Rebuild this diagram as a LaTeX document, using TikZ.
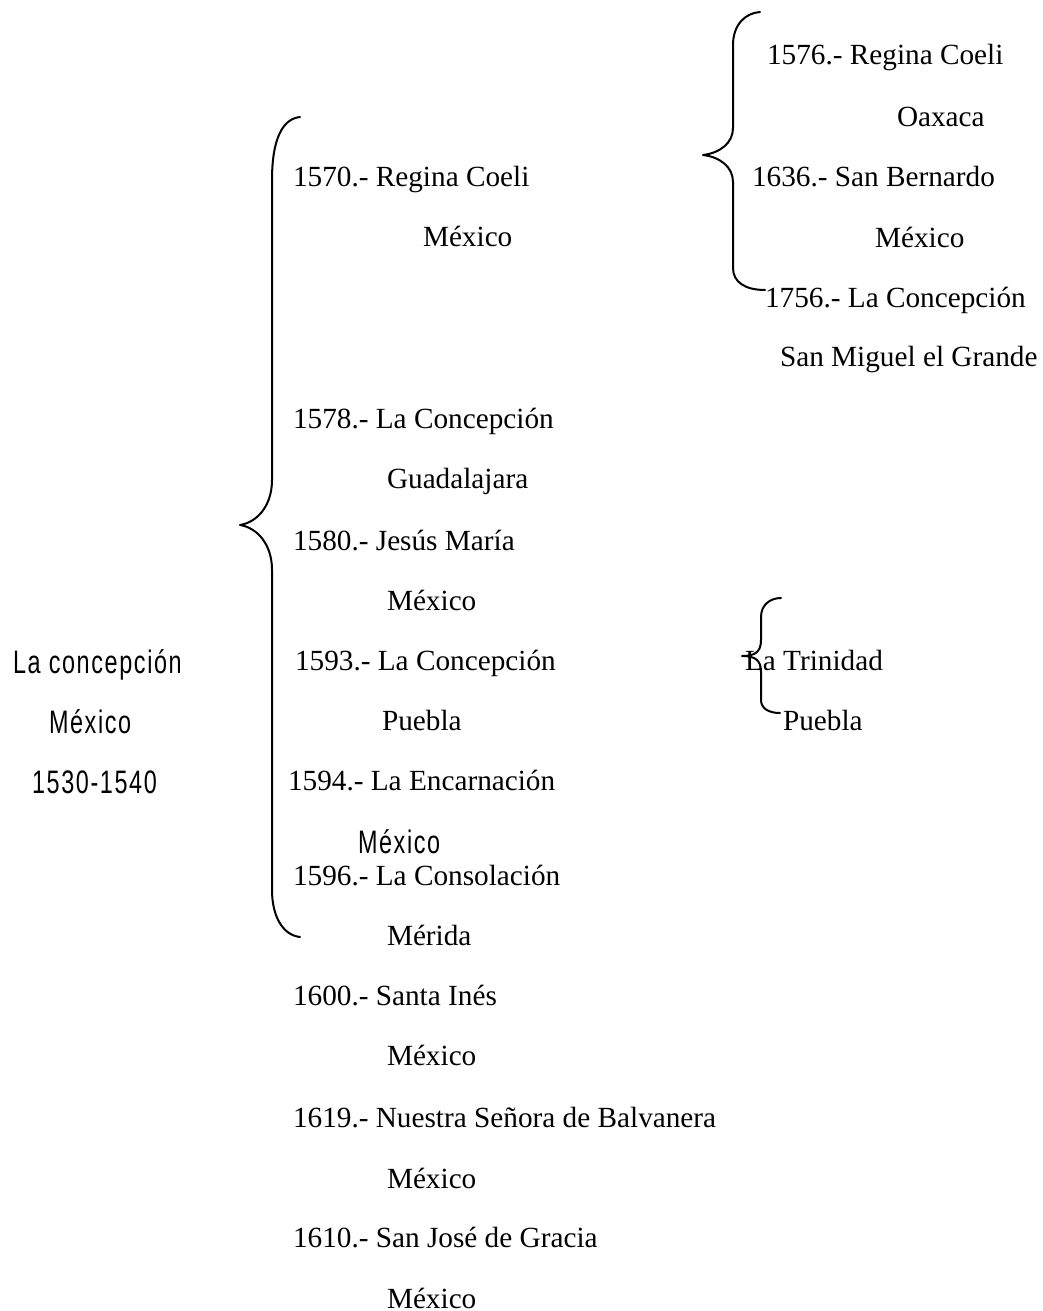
\documentclass[tikz,border=0pt]{standalone}
\usepackage{fontspec}
\setmainfont{Liberation Serif}
\newfontfamily\narrowsans[FakeStretch=0.72, LetterSpace=5]{Liberation Sans}
\usetikzlibrary{positioning}

\begin{document}
\begin{tikzpicture}[
    x=0.4pt, y=-0.4pt,
    every node/.style={inner sep=0pt, outer sep=0pt, anchor=base west},
    entry/.style={font=\fontsize{11.7}{14}\selectfont},
    sansentry/.style={font=\narrowsans\fontsize{13}{15}\selectfont},
    brace/.style={line width=0.8pt, line cap=round, line join=round},
]
\useasboundingbox (0,0) rectangle (1042,1311);

% ---------------- the mother house
\node[sansentry] (root) at (13,673) {La concepción};
\node[sansentry] (rootplace) at (49,733) {México};
\node[sansentry] (rootyears) at (32,793) {1530-1540};

% ---------------- first foundations
\foreach \n/\x/\y/\txt in {
    r1570/293/187/{1570.- Regina Coeli}, m1570/423/247/{México},
    r1578/293/428/{1578.- La Concepción}, m1578/387/488/{Guadalajara},
    r1580/293/550/{1580.- Jesús María}, m1580/387/610/{México},
    r1593/295/670/{1593.- La Concepción}, m1593/382/730/{Puebla},
    r1594/288/790/{1594.- La Encarnación},
    r1596/293/885/{1596.- La Consolación}, m1596/387/945/{Mérida},
    r1600/293/1005/{1600.- Santa Inés}, m1600/387/1065/{México},
    r1619/293/1127/{1619.- Nuestra Señora de Balvanera}, m1619/387/1188/{México},
    r1610/293/1247/{1610.- San José de Gracia}, m1610/387/1308/{México}}{
    \node[entry] (\n) at (\x,\y) {\txt};
}
\node[sansentry] (m1594) at (358,853) {México};

% the big brace
\coordinate (tipmain) at (240,525);
\draw[brace] (300,117) .. controls (282,119) and (272,140) .. (272,180) -- (272,480)
    .. controls (272,505) and (258,522) .. (tipmain)
    .. controls (258,528) and (272,545) .. (272,570) -- (272,890)
    .. controls (272,915) and (282,935) .. (300,937);

% ---------------- daughters of Regina Coeli
\foreach \n/\x/\y/\txt in {
    r1576/767/65/{1576.- Regina Coeli}, m1576/897/127/{Oaxaca},
    r1636/752/187/{1636.- San Bernardo}, m1636/875/248/{México},
    r1756/765/308/{1756.- La Concepción}, m1756/780/367/{San Miguel el Grande}}{
    \node[entry] (\n) at (\x,\y) {\txt};
}
\coordinate (tipcoeli) at (703,155);
\draw[brace] (760,12) .. controls (745,13) and (733,25) .. (733,45) -- (733,128)
    .. controls (733,143) and (720,153) .. (tipcoeli)
    .. controls (720,157) and (733,167) .. (733,182) -- (733,268)
    .. controls (733,282) and (745,290) .. (765,290);

% ---------------- daughter of Puebla
\node[entry] (trinidad) at (745,670) {La Trinidad};
\node[entry] (trinplace) at (783,730) {Puebla};
\coordinate (tiptrin) at (742,656);
\draw[brace] (781,598) .. controls (770,598) and (761,605) .. (761,617) -- (761,640)
    .. controls (761,652) and (755,656) .. (tiptrin)
    .. controls (755,656) and (761,660) .. (761,672) -- (761,700)
    .. controls (761,708) and (768,713) .. (780,713);
\end{tikzpicture}
\end{document}
